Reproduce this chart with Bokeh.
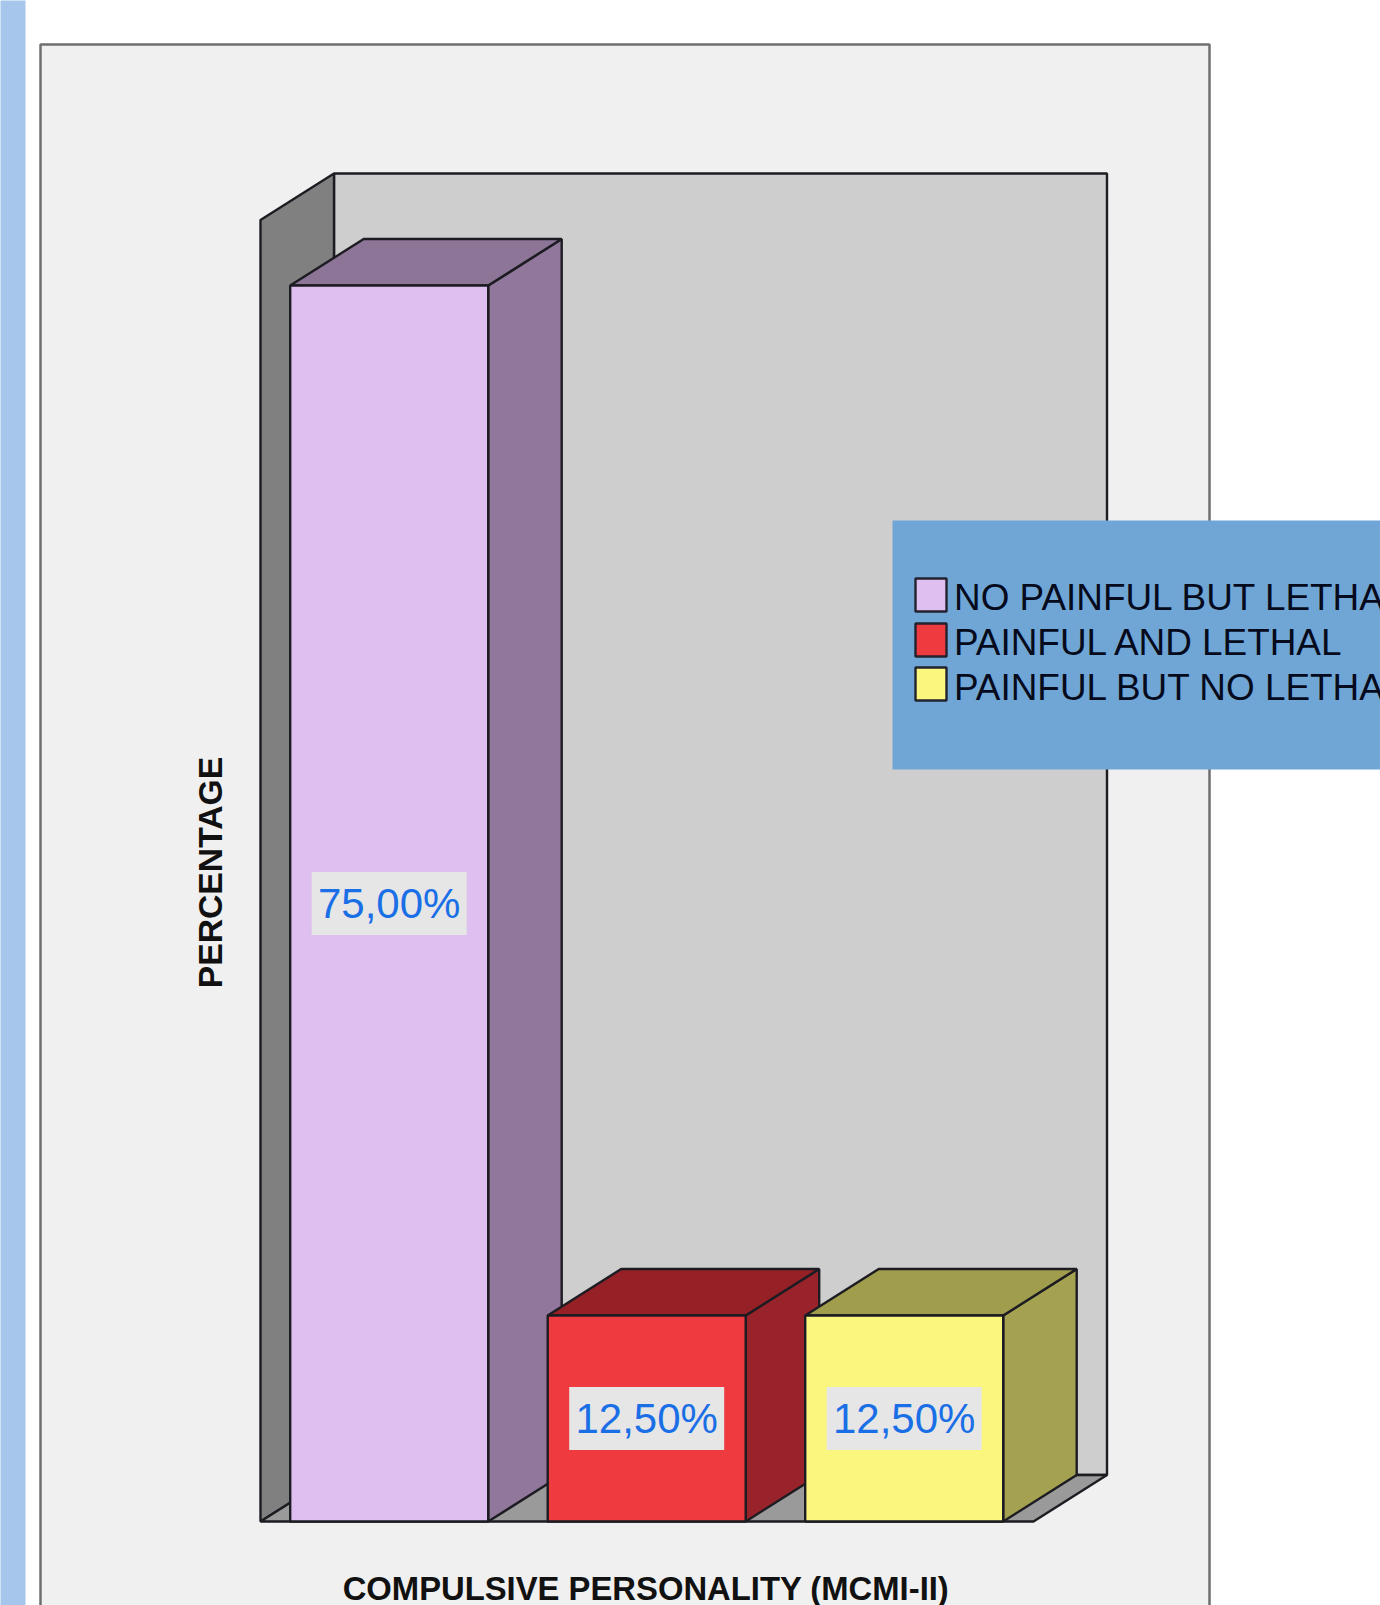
from bokeh.plotting import figure
from bokeh.models import Range1d, ColumnDataSource
from bokeh.core.properties import value
from bokeh.embed import file_html
from bokeh.resources import INLINE
import math

# ---- chart data ----
categories = ["NO PAINFUL BUT LETHAL", "PAINFUL AND LETHAL", "PAINFUL BUT NO LETHAL"]
percentages = [75.0, 12.5, 12.5]
value_labels = ["75,00%", "12,50%", "12,50%"]
x_title = "COMPULSIVE PERSONALITY (MCMI-II)"
y_title = "PERCENTAGE"

front_colors = ["#dfbff0", "#ef3a40", "#fbf77e"]
side_colors = ["#90779b", "#99232a", "#a4a150"]
top_colors = ["#8d7598", "#952026", "#a09d4c"]

# ---- geometry: page pixels <-> data ----
W, H = 1380, 1605
BASE_PX = 1521          # page y of value 0
PX_PER_PCT = 16.48
SLOT_PX = 257.5
FIRST_CENTER_PX = 388.7
BAR_W = 198 / SLOT_PX
DX = 73.5 / SLOT_PX
DY = 46.5 / PX_PER_PCT


def X(px):
    return (px - FIRST_CENTER_PX) / SLOT_PX


def Y(py):
    return (BASE_PX - py) / PX_PER_PCT


p = figure(
    width=W, height=H, output_backend="svg", toolbar_location=None,
    x_range=Range1d(X(0), X(W)), y_range=Range1d(Y(H), Y(0)),
    min_border=0, border_fill_color="white", background_fill_color="white",
    outline_line_color=None,
)
p.xaxis.visible = False
p.yaxis.visible = False
p.grid.visible = False

# page decoration: left stripe and chart panel
p.quad(left=X(-5), right=X(25), bottom=Y(1700), top=Y(-5), fill_color="#a6c6ec", line_color=None)
p.quad(left=X(40), right=X(1209), bottom=Y(1700), top=Y(44), fill_color="#f0f0f0",
       line_color="#6f6f6f", line_width=2.5)

# 3D box: back wall, left wall, floor
EDGE = "#1c1c22"
LW = 2.4
wall_front_left = X(260)
wall_front_right = X(1033)
wall_top = Y(219.5)
p.patch([wall_front_left + DX, wall_front_right + DX, wall_front_right + DX, wall_front_left + DX],
        [wall_top + DY, wall_top + DY, DY, DY], fill_color="#cecece", line_color=EDGE, line_width=LW)
p.patch([wall_front_left, wall_front_left + DX, wall_front_left + DX, wall_front_left],
        [wall_top, wall_top + DY, DY, 0], fill_color="#808080", line_color=EDGE, line_width=LW)
p.patch([wall_front_left, wall_front_left + DX, wall_front_right + DX, wall_front_right],
        [0, DY, DY, 0], fill_color="#9a9a9a", line_color=EDGE, line_width=LW)

# bars
for i, v in enumerate(percentages):
    l, r = i - BAR_W / 2, i + BAR_W / 2
    p.patch([r, r + DX, r + DX, r], [0, DY, v + DY, v],
            fill_color=side_colors[i], line_color=EDGE, line_width=LW)
    p.patch([l, l + DX, r + DX, r], [v, v + DY, v + DY, v],
            fill_color=top_colors[i], line_color=EDGE, line_width=LW)
    p.quad(left=l, right=r, bottom=0, top=v,
           fill_color=front_colors[i], line_color=EDGE, line_width=LW)

# data labels
xs = list(range(len(percentages)))
mids = [v / 2 for v in percentages]
lab = ColumnDataSource(dict(x=xs, y=mids, t=value_labels))
p.rect(x="x", y="y", width=155 / SLOT_PX, height=63 / PX_PER_PCT, source=lab,
       fill_color="#e6e6e6", line_color=None)
p.text(x="x", y="y", text="t", source=lab, text_align="center", text_baseline="middle",
       text_font=value("Liberation Sans"), text_font_size="42px", text_color="#1a6fe6")

# axis titles
p.text(x=[X(645.5)], y=[Y(1588)], text=[x_title], text_align="center",
       text_baseline="middle", text_font=value("Liberation Sans"),
       text_font_style="bold", text_font_size="32.8px", text_color="#111111")
p.text(x=[X(209)], y=[Y(872)], text=[y_title], angle=math.pi / 2, text_align="center",
       text_baseline="middle", text_font=value("Liberation Sans"),
       text_font_style="bold", text_font_size="33.7px", text_color="#111111")

# legend
p.quad(left=X(892), right=X(1400), bottom=Y(769), top=Y(520), fill_color="#70a6d6", line_color=None)
swatch_tops = [578, 623, 667]
text_mids = [597, 642, 687]
for i, c in enumerate(categories):
    p.quad(left=X(915), right=X(946), top=Y(swatch_tops[i]), bottom=Y(swatch_tops[i] + 33),
           fill_color=front_colors[i], line_color="#22222e", line_width=LW)
    p.text(x=[X(953.5)], y=[Y(text_mids[i])], text=[c], text_align="left", text_baseline="middle",
           text_font=value("Liberation Sans"), text_font_size="36.9px", text_color="#050a1c",
           text_font_style="normal")

open("out.html", "w").write(file_html(p, INLINE))
